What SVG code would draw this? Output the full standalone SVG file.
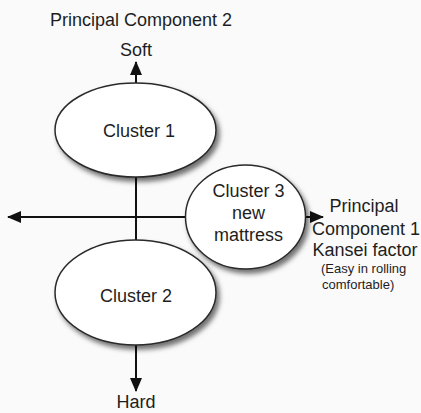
<svg xmlns="http://www.w3.org/2000/svg" width="421" height="413" viewBox="0 0 421 413">
<style>
text{font-family:"Liberation Sans",Arial,sans-serif;fill:#1e1e1e;text-anchor:middle}
.t{font-size:18px}
.s{font-size:13px;text-anchor:start}
.node{fill:#fff;stroke:#2a2a2a;stroke-width:1.5;filter:url(#sh)}
.ax{stroke:#111;stroke-width:2;fill:none}
</style>
<defs>
<filter id="sh" x="-20%" y="-20%" width="150%" height="150%">
<feDropShadow dx="3" dy="4" stdDeviation="2.5" flood-color="#000" flood-opacity="0.55"/>
</filter>
<marker id="ah" viewBox="0 0 14 12" refX="13" refY="6" markerWidth="14" markerHeight="12" markerUnits="userSpaceOnUse" orient="auto">
<path d="M0,0 L14,6 L0,12 Z" fill="#111"/>
</marker>
</defs>
<rect width="421" height="413" fill="#fafafa"/>
<g id="connectors">
<line class="ax" x1="136" y1="84" x2="136" y2="62" marker-end="url(#ah)"/>
<line class="ax" x1="136" y1="166" x2="136" y2="258"/>
<line class="ax" x1="136" y1="330" x2="136" y2="391" marker-end="url(#ah)"/>
<line class="ax" x1="195" y1="217" x2="8" y2="217" marker-end="url(#ah)"/>
<line class="ax" x1="294" y1="217" x2="323" y2="217" marker-end="url(#ah)"/>
</g>
<g id="cluster1">
<ellipse class="node" cx="135.5" cy="130" rx="80.5" ry="47"/>
<text class="t" x="139" y="137">Cluster 1</text>
</g>
<g id="cluster2">
<ellipse class="node" cx="135.5" cy="292.5" rx="80.5" ry="52.5"/>
<text class="t" x="136" y="302">Cluster 2</text>
</g>
<g id="cluster3">
<ellipse class="node" cx="245.5" cy="217" rx="60" ry="52"/>
<text class="t" x="248.5" y="197">Cluster 3</text>
<text class="t" x="248.5" y="219">new</text>
<text class="t" x="248.5" y="241">mattress</text>
</g>
<g id="labels">
<text class="t" x="141" y="26">Principal Component 2</text>
<text class="t" x="136" y="56">Soft</text>
<text class="t" x="136" y="408">Hard</text>
<text class="t" x="364" y="212">Principal</text>
<text class="t" x="366" y="235">Component 1</text>
<text class="t" x="365" y="256">Kansei factor</text>
<text class="s" x="321" y="273">(Easy in rolling</text>
<text class="s" x="322" y="289">comfortable)</text>
</g>
</svg>
